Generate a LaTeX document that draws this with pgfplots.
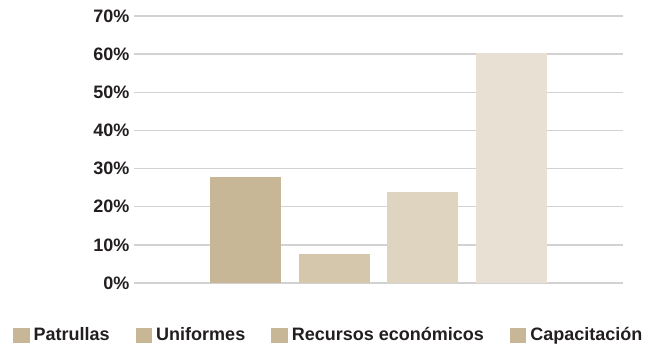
\documentclass[border=0pt]{standalone}
\usepackage{pgfplots}
\pgfplotsset{compat=1.18}
\usepackage{fontspec}
\setmainfont{Liberation Sans}

\definecolor{barA}{HTML}{C7B797}
\definecolor{barB}{HTML}{D5C7AC}
\definecolor{barC}{HTML}{DFD4C0}
\definecolor{barD}{HTML}{E8E0D3}
\definecolor{gridgray}{HTML}{D2D2D2}
\definecolor{txt}{HTML}{231F20}

\begin{document}
\begin{tikzpicture}
\useasboundingbox (-134bp,-63bp) rectangle (516bp,283bp);
\begin{axis}[
  scale only axis, width=489bp, height=267bp,
  ybar, bar shift=0pt, bar width=71bp,
  xmin=-1.257, xmax=4.257, ymin=0, ymax=70,
  axis line style={draw=none},
  xtick=\empty,
  ytick={0,10,...,70},
  yticklabel={\pgfmathprintnumber{\tick}\%},
  ymajorgrids, grid style={gridgray, line width=1.3bp},
  major tick length=0pt,
  /pgf/number format/assume math mode=true,
  tick label style={font=\bfseries\fontsize{18bp}{20bp}\selectfont, text=txt},
  yticklabel style={anchor=east, inner sep=0pt, xshift=-4.5bp},
  legend columns=4,
  legend style={draw=none, fill=none, inner sep=0pt,
    at={(axis description cs:-0.2474,-0.1948)}, anchor=west,
    font=\bfseries\fontsize{18bp}{20bp}\selectfont, text=txt,
    nodes={inner sep=0pt, outer sep=0pt},
    column sep=4bp,
    /tikz/every even column/.append style={column sep=26bp}},
  legend image code/.code={\fill[barA] (0bp,-7.5bp) rectangle (16.5bp,7.5bp);},
]
\addplot[fill=barA, draw=none] coordinates {(0,27.8)}; \addlegendentry{Patrullas}
\addplot[fill=barB, draw=none] coordinates {(1,7.6)}; \addlegendentry{Uniformes}
\addplot[fill=barC, draw=none] coordinates {(2,23.9)}; \addlegendentry{Recursos económicos}
\addplot[fill=barD, draw=none] coordinates {(3,60.2)}; \addlegendentry{Capacitación}
\end{axis}
\end{tikzpicture}
\end{document}
